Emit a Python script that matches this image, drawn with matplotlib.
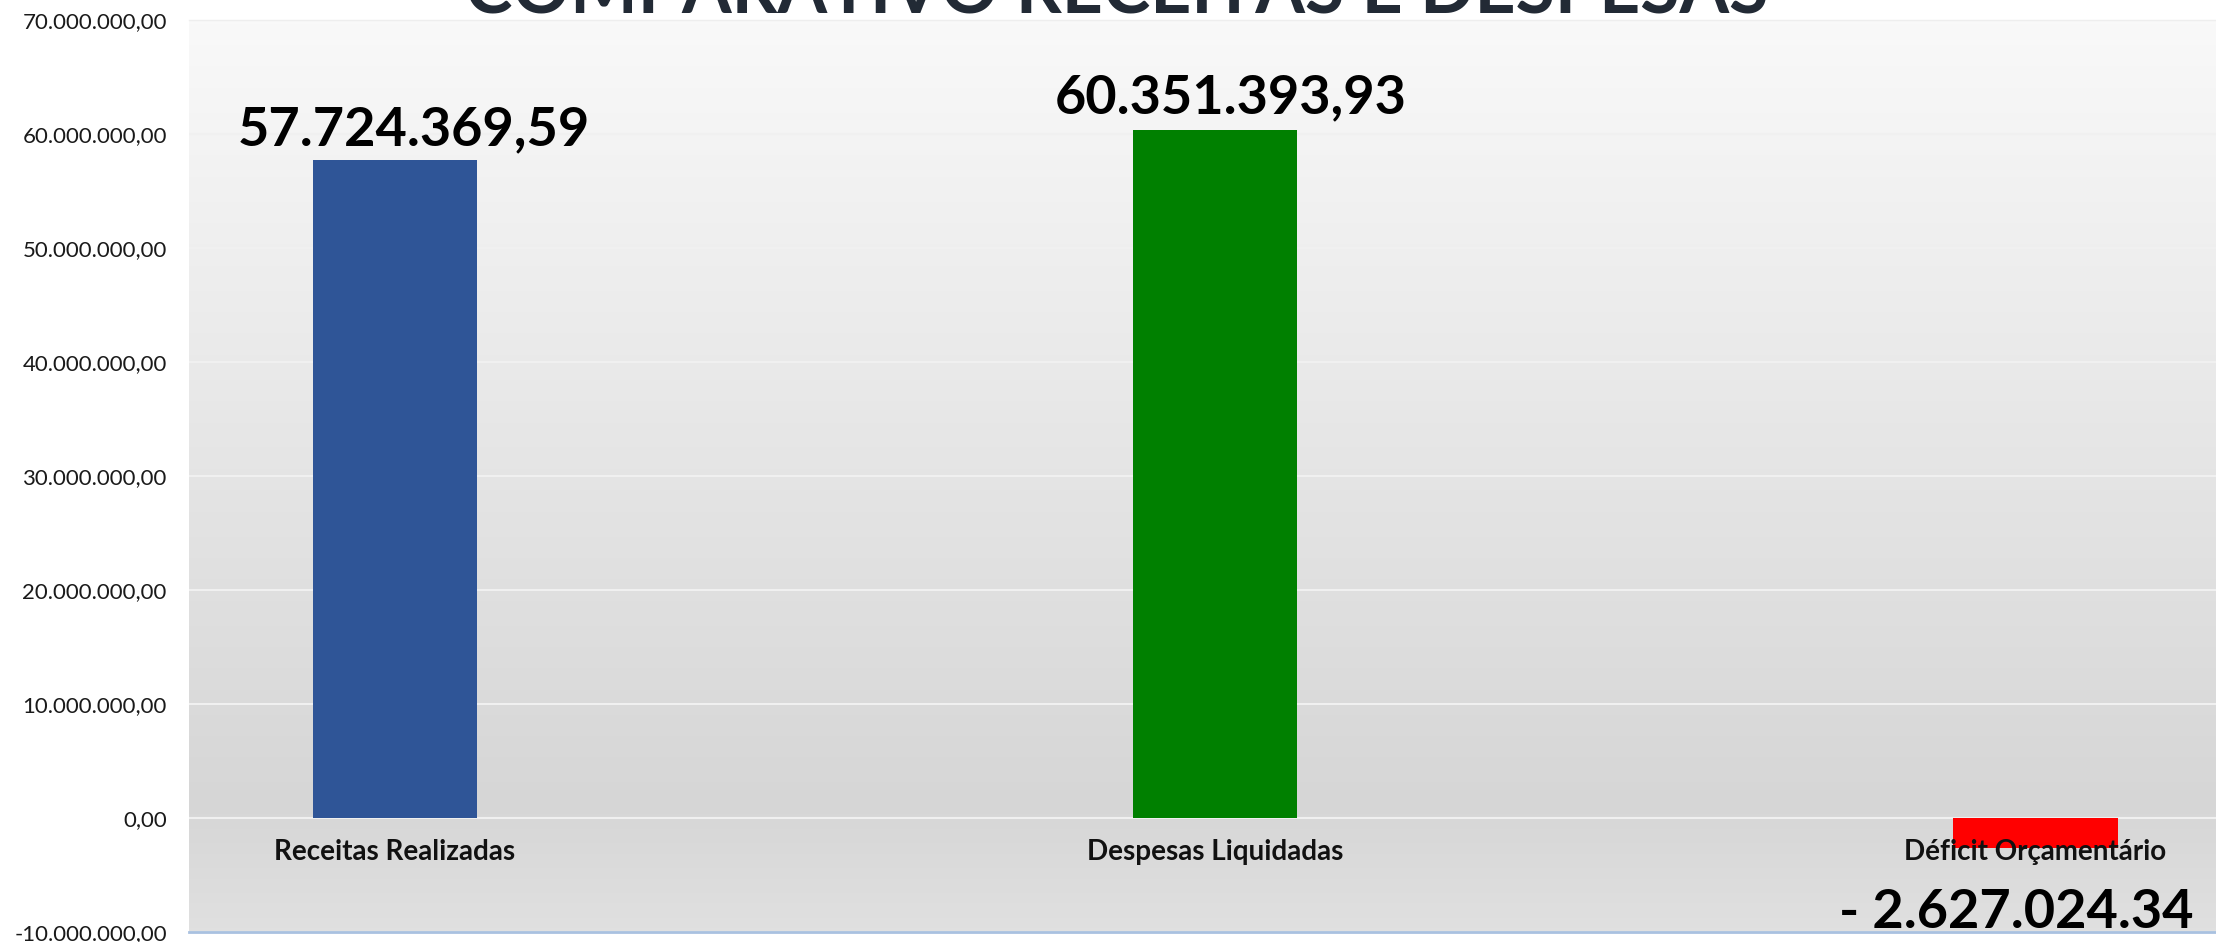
import matplotlib.pyplot as plt
from matplotlib.colors import LinearSegmentedColormap
import numpy as np

# dados
categorias = ['Receitas Realizadas', 'Despesas Liquidadas', 'Déficit Orçamentário']
valores = [57724369.59, 60351393.93, -2627024.34]
rotulos = ['57.724.369,59', '60.351.393,93', '- 2.627.024.34']
cores = ['#2F5597', '#008000', '#FF0000']
ticks = [-10000000, 0, 10000000, 20000000, 30000000, 40000000, 50000000, 60000000, 70000000]


def fmt_br(v):
    s = '{:,.2f}'.format(v)
    return s.replace(',', 'X').replace('.', ',').replace('X', '.')


plt.rcParams['font.family'] = ['Lato', 'DejaVu Sans']

W, H = 2216, 942
fig = plt.figure(figsize=(W / 100, H / 100), dpi=100)
fig.patch.set_facecolor('white')

left, top, bottom = 189, 20, 932
ax = fig.add_axes([left / W, (H - bottom) / H, (W - left) / W, (bottom - top) / H])

# fundo em degrade (claro em cima, escuro perto do zero)
cmap = LinearSegmentedColormap.from_list('bg', [(0, '#f9f9f9'), (0.86, '#d6d6d6'), (1, '#e0e0e0')])
grad = np.linspace(0, 1, 256).reshape(-1, 1)
ax.imshow(grad, cmap=cmap, aspect='auto', extent=[0, 1, 0, 1], origin='upper',
          transform=ax.transAxes, zorder=-2)

x = np.arange(len(categorias))
ax.bar(x, valores, width=0.2, color=cores, zorder=2)

ax.set_xlim(-0.251, 2.22)
ax.set_ylim(-10000000, 70000000)
ax.set_yticks(ticks)
ax.set_yticklabels([fmt_br(t) for t in ticks], fontsize=16, color='#1a1a1a')
ax.tick_params(axis='y', length=0, pad=16)
ax.set_xticks([])

ax.set_axisbelow(True)
ax.yaxis.grid(True, color='#f0f0f0', linewidth=1.5)

for s in ['left', 'right']:
    ax.spines[s].set_visible(False)
ax.spines['top'].set_color('#eeeeee')
ax.spines['top'].set_linewidth(1)
ax.spines['bottom'].set_color('#a9c1e0')
ax.spines['bottom'].set_linewidth(2)

# nomes das categorias
for i, nome in enumerate(categorias):
    ax.annotate(nome, (x[i], 0), xytext=(0, -42), textcoords='offset pixels',
                ha='center', va='baseline', fontsize=20, fontweight='bold', color='#111111', zorder=3)

# rotulos dos valores
desloc = [(19, 15), (15, 17), (-19, -110)]
for i, r in enumerate(rotulos):
    dx, dy = desloc[i]
    ax.annotate(r, (x[i], max(valores[i], 0)), xytext=(dx, dy), textcoords='offset pixels',
                ha='center', va='baseline', fontsize=39, fontweight='bold', color='black', zorder=3)

fig.text(1117 / W, 1 - 14 / H, 'COMPARATIVO RECEITAS E DESPESAS', ha='center', va='baseline',
         fontsize=51.5, fontweight='bold', color='#222A35')

fig.savefig('out.png', dpi=100)
